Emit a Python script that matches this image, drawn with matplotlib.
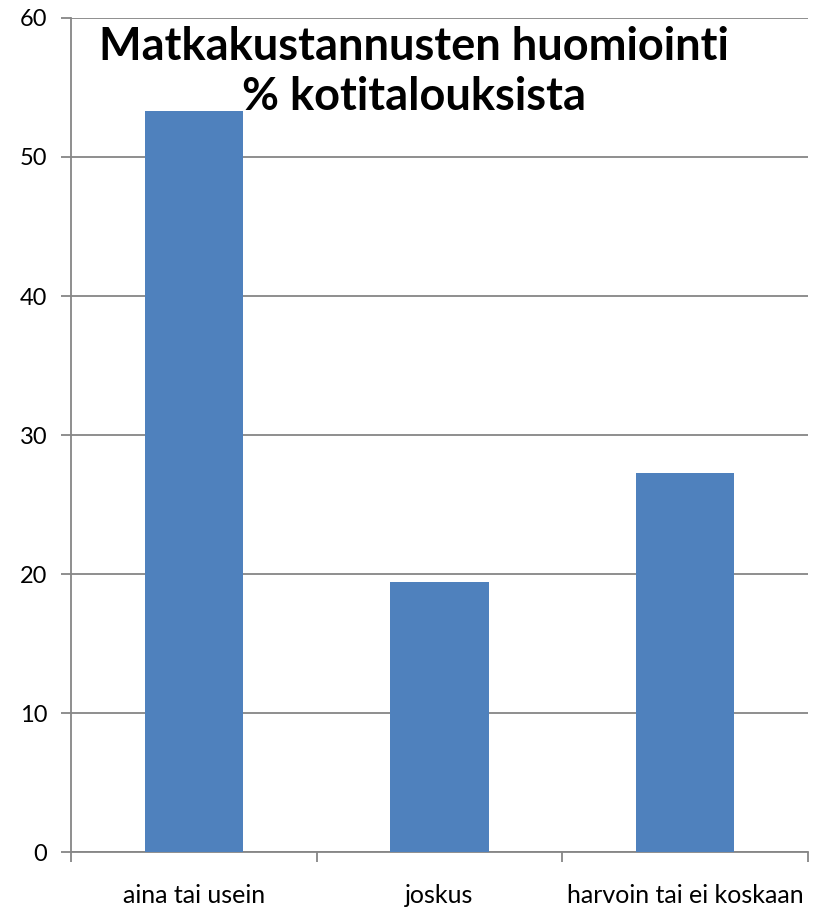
import matplotlib
matplotlib.use("Agg")
import matplotlib.pyplot as plt
import numpy as np

plt.rcParams['font.family'] = ['Lato', 'DejaVu Sans']

# data
categories = ['aina tai usein', 'joskus', 'harvoin tai ei koskaan']
values = [53.3, 19.4, 27.3]
yticks = [0, 10, 20, 30, 40, 50, 60]
title = 'Matkakustannusten huomiointi\n% kotitalouksista'

fig = plt.figure(figsize=(8.17, 9.09), dpi=100)
ax = fig.add_axes([0.0869, 0.0627, 0.902, 0.9175])

x = np.arange(len(categories))
ax.bar(x, values, width=0.4, color='#4F81BD', zorder=3)

ax.set_xlim(-0.5, len(categories) - 0.5)
ax.set_ylim(0, 60)
ax.set_yticks(yticks)
ax.yaxis.grid(True, color='#868686', linewidth=1.3, zorder=0)

ax.set_xticks(x)
ax.set_xticklabels(categories, fontsize=18)
ax.set_xticks(np.arange(-0.5, len(categories)), minor=True)
ax.tick_params(axis='x', which='major', length=0, pad=23)
ax.tick_params(axis='x', which='minor', length=7, width=1.3, color='#868686', direction='out')
ax.tick_params(axis='y', labelsize=17, length=7, width=1.3, color='#868686', direction='out', pad=10)

for s in ['top', 'right']:
    ax.spines[s].set_visible(False)
for s in ['left', 'bottom']:
    ax.spines[s].set_color('#868686')
    ax.spines[s].set_linewidth(1.3)

fig.text(0.507, 0.921, title, ha='center', va='center', fontsize=32.5,
         fontweight='bold', linespacing=1.22)

fig.savefig('out.png', dpi=100)
